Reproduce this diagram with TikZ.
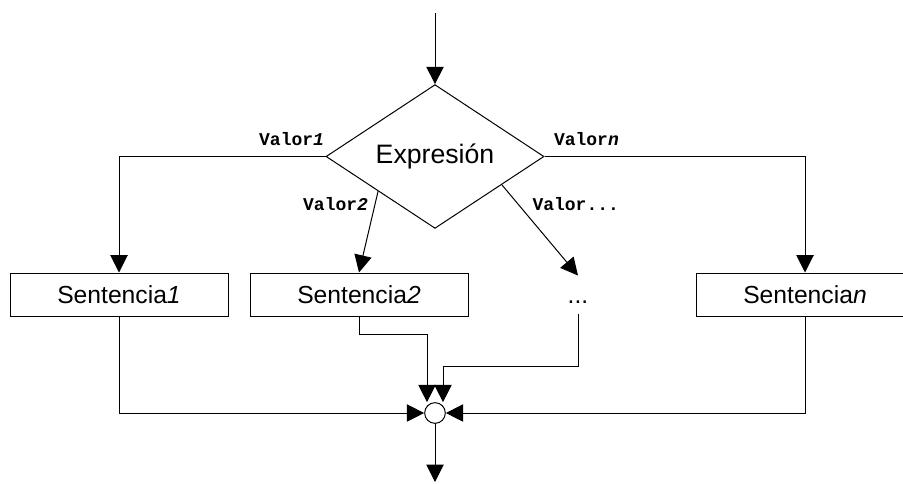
\documentclass[tikz,border=0pt]{standalone}
\usepackage{fontspec}
\setmainfont{Liberation Sans}
\setmonofont{Liberation Mono}
\usetikzlibrary{calc}
\usetikzlibrary{arrows.meta,positioning}
\usetikzlibrary{shapes.geometric}

\tikzset{
	sentencia/.style={draw, rectangle, inner sep=0pt, minimum width=163.5pt, minimum height=32.25pt, font=\fontsize{18.5}{20}\selectfont},
	valor/.style={inner sep=0pt, font=\fontsize{13.5}{14}\selectfont\ttfamily\bfseries},
	flecha/.style={-{Triangle[length=13pt,width=13pt]}},
}

\begin{document}
\begin{tikzpicture}[x=0.75pt,y=-0.75pt,line width=0.75pt]
	\useasboundingbox (0,0) rectangle (903,483);

	\def \ycaja {294.5}

	\node[diamond, draw, inner sep=0pt, minimum width=163.5pt, minimum height=98.5pt, font=\fontsize{20}{22}\selectfont] (expr) at (435,156.5) {Expresión};

	\node[sentencia] (s1) at (119,\ycaja) {Sentencia\textit{1}};
	\node[sentencia] (s2) at (359,\ycaja) {Sentencia\textit{2}};
	\node[sentencia, draw=none, minimum width=20pt, minimum height=27.75pt] (dots) at (578,\ycaja) {\vphantom{Sentencia}...};
	\node[sentencia] (sn) at (805,\ycaja) {Sentencia\textit{n}};

	\node[circle, draw, inner sep=0pt, minimum size=15.5pt] (junta) at (435,413) {};

	\coordinate (entrada) at (435,13);
	\coordinate (salida) at (435,482);
	\coordinate (sal2) at ($(expr.west)!0.48!(expr.south)$);
	\coordinate (sal3) at ($(expr.east)!0.39!(expr.south)$);

	% entrada y ramas
	\draw[flecha] (entrada) -- (expr.north);
	\draw[flecha] (expr.west) -- (expr.west -| s1.north) -- (s1.north);
	\draw[flecha] (expr.east) -- (expr.east -| sn.north) -- (sn.north);
	\draw[flecha] (sal2) -- (s2.north);
	\draw[flecha] (sal3) -- (dots.north);

	\node[valor, above left=8pt and 0.75pt] at (expr.west) {Valor\textit{1}};
	\node[valor, above right=8pt and 6.75pt] at (expr.east) {Valor\textit{n}};
	\node[valor, anchor=south east] at (368.5,211) {Valor\textit{2}};
	\node[valor, anchor=south west] at (532,211) {Valor...};

	% union
	\draw[flecha] (s1.south) |- (junta.west);
	\draw[flecha] (sn.south) |- (junta.east);
	\draw[flecha] (s2.south) -- ++(0,18) -| ($(junta.north)+(-8,0)$);
	\draw[flecha] (dots.south) -- ++(0,53) -| ($(junta.north)+(8,0)$);
	\draw[flecha] (junta.south) -- (salida);
\end{tikzpicture}
\end{document}
